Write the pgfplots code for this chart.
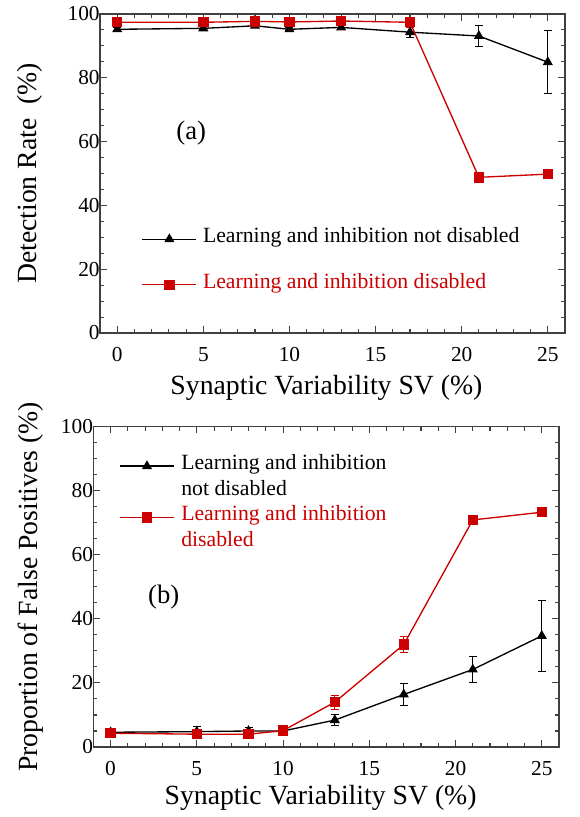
\documentclass[border=0pt]{standalone}
\usepackage{pgfplots}
\pgfplotsset{compat=1.18}
\usepackage{pgfplotstable}
\usepackage{fontspec}
\setmainfont{Liberation Serif}
\definecolor{myred}{RGB}{204,0,0}
\definecolor{axgray}{RGB}{64,64,64}

\pgfplotstableread{
x y e
0 95.2 0.5
5 95.5 0.5
8 96.3 0.5
10 95.2 0.5
13 95.8 0.5
17 94.3 1.7
21 93.1 3.4
25 84.9 9.8
}\topblack
\pgfplotstableread{
x y e
0 97.4 0.3
5 97.4 0.3
8 97.7 0.3
10 97.5 0.3
13 97.8 0.3
17 97.4 1.5
21 48.8 0.5
25 49.8 0.5
}\topred
\pgfplotstableread{
x y e
0 4.6 1.0
5 4.8 1.7
8 5.0 1.2
10 5.0 0.5
13 8.4 1.7
17 16.4 3.5
21 24.2 4.1
25 34.7 11
}\botblack
\pgfplotstableread{
x y e
0 4.3 0.5
5 4.0 0.4
8 4.0 0.4
10 5.1 0.5
13 14.0 2.2
17 32.0 2.6
21 70.9 0.6
25 73.3 0.6
}\botred

\pgfplotsset{
  myaxis/.style={
    scale only axis,
    anchor=south west,
    xmin=-1, xmax=26, ymin=0, ymax=100,
    xtick={0,5,...,25}, minor x tick num=4,
    ytick={0,20,...,100}, minor y tick num=3,
    tick align=inside,
    major tick length=5pt, minor tick length=3pt,
    axis line style={axgray, line width=0.8pt},
    tick style={axgray, line width=0.8pt},
    tick label style={font=\fontsize{16}{19}\selectfont},
    /pgf/number format/assume math mode=true,
    xticklabel style={yshift=-7.2pt},
    yticklabel style={xshift=3.25pt},
    label style={font=\fontsize{20.8}{25}\selectfont},
    legend cell align=left,
    legend image code/.code={\draw[mark repeat=2,mark phase=2,##1] plot coordinates {(0pt,0pt)(20.25pt,0pt)(40.5pt,0pt)};},
  },
  blk/.style={black, line width=1pt, mark=triangle*, mark size=3.4pt, mark options={solid},
    error bars/.cd, y dir=both, y explicit,
    error bar style={black, line width=0.8pt},
    error mark options={black, rotate=90, mark size=3pt, line width=0.8pt}},
  rd/.style={myred, line width=1pt, mark=square*, mark size=3.4pt, mark options={solid},
    error bars/.cd, y dir=both, y explicit,
    error bar style={myred, line width=0.8pt},
    error mark options={myred, rotate=90, mark size=3pt, line width=0.8pt}},
}

\begin{document}
\begin{tikzpicture}
\useasboundingbox (0,0) rectangle (435pt,612.75pt);

% (a)
\begin{axis}[myaxis,
  at={(75pt,363pt)}, width=348.75pt, height=239.25pt,
  xlabel={Synaptic Variability SV (\%)},
  ylabel={Detection Rate\ \ (\%)},
  xlabel style={at={(axis description cs:0.487,0)}, anchor=base, yshift=-46.5pt},
  ylabel style={at={(axis description cs:-0.1505,0.5)}, anchor=center, rotate=0},
  legend style={at={(axis description cs:0.0897,0.2226)}, anchor=west,
    draw=none, fill=none, inner sep=0pt, outer sep=0pt,
    row sep=24.2pt, column sep=4.5pt,
    nodes={inner sep=0pt, text height=0.75em, text depth=0.25em, font=\fontsize{16.3}{19.5}\selectfont}},
]
\addplot[blk] table[x=x, y=y, y error=e] {\topblack};
\addlegendentry{Learning and inhibition not disabled}
\addplot[rd] table[x=x, y=y, y error=e] {\topred};
\addlegendentry{\textcolor{myred}{Learning and inhibition disabled}}
\node[font=\fontsize{20}{24}\selectfont] at (axis cs:4.3,62.7) {(a)};
\end{axis}

% (b)
\begin{axis}[myaxis,
  at={(70pt,52.5pt)}, width=349.25pt, height=240.2pt,
  xlabel={Synaptic Variability SV (\%)},
  ylabel={Proportion of False Positives (\%)},
  xlabel style={at={(axis description cs:0.488,0)}, anchor=base, yshift=-43.5pt},
  ylabel style={at={(axis description cs:-0.134,0.5)}, anchor=center, rotate=0},
  legend style={at={(axis description cs:0.0558,0.757)}, anchor=west,
    draw=none, fill=none, inner sep=0pt, outer sep=0pt,
    row sep=9.2pt, column sep=5pt,
    nodes={inner sep=0pt, text height=0.75em, text depth=0.25em, font=\fontsize{16.3}{19.5}\selectfont}},
]
\addplot[blk] table[x=x, y=y, y error=e] {\botblack};
\addlegendentry{Learning and inhibition}
\addlegendimage{empty legend}
\addlegendentry{not disabled}
\addplot[rd] table[x=x, y=y, y error=e] {\botred};
\addlegendentry{\textcolor{myred}{Learning and inhibition}}
\addlegendimage{empty legend}
\addlegendentry{\textcolor{myred}{disabled}}
\node[font=\fontsize{20}{24}\selectfont] at (axis cs:3.08,46.8) {(b)};
\end{axis}
\end{tikzpicture}
\end{document}
